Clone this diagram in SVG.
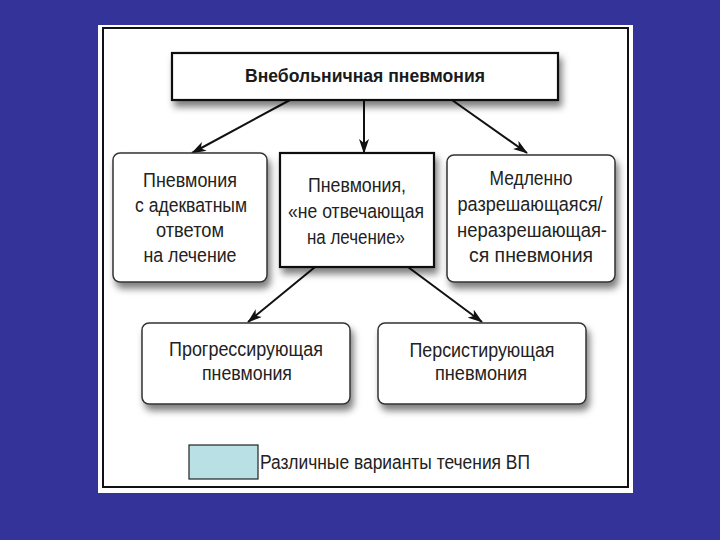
<svg xmlns="http://www.w3.org/2000/svg" width="720" height="540" viewBox="0 0 720 540">
<defs>
<style>
.t{font-family:"Liberation Sans","Arial",sans-serif;font-size:20.5px;fill:#222;text-anchor:middle}
.tb{font-family:"Liberation Sans","Arial",sans-serif;font-size:18px;font-weight:bold;fill:#1a1a1a;text-anchor:middle}
.rb{fill:#fff;stroke:#333;stroke-width:1.5}
.sb{fill:#fff;stroke:#111;stroke-width:2.2}
.c{stroke:#111;stroke-width:2;fill:none}
</style>
<filter id="sh" x="-20%" y="-20%" width="140%" height="150%">
<feDropShadow dx="3" dy="6" stdDeviation="3.5" flood-color="#000" flood-opacity="0.5"/>
</filter>
<marker id="ah" viewBox="0 0 15 10" refX="14" refY="5" markerWidth="15" markerHeight="10" markerUnits="userSpaceOnUse" orient="auto">
<path d="M0,0 L15,5 L0,10 L4,5 Z" fill="#111"/>
</marker>
<marker id="ahc" viewBox="0 0 15 10" refX="14" refY="5" markerWidth="15" markerHeight="11" markerUnits="userSpaceOnUse" orient="auto">
<path d="M0,0 L15,5 L0,10 L4,5 Z" fill="#111"/>
</marker>
</defs>
<rect x="0" y="0" width="720" height="540" fill="#333399"/>
<rect x="98" y="25" width="535" height="468" fill="#fff"/>
<rect x="103" y="28" width="525" height="459" fill="none" stroke="#111" stroke-width="2"/>

<g id="connectors">
<line class="c" x1="290" y1="100" x2="192" y2="153" marker-end="url(#ah)"/>
<line class="c" x1="364" y1="100" x2="364" y2="153" stroke-width="4" marker-end="url(#ahc)"/>
<line class="c" x1="452" y1="100" x2="527" y2="153" marker-end="url(#ah)"/>
<line class="c" x1="315" y1="267" x2="248" y2="322" marker-end="url(#ah)"/>
<line class="c" x1="408" y1="267" x2="482" y2="322" marker-end="url(#ah)"/>
</g>

<g id="n-top">
<rect class="sb" x="172" y="53" width="386" height="47" filter="url(#sh)"/>
<text class="tb" x="365" y="82" textLength="240" lengthAdjust="spacingAndGlyphs">Внебольничная пневмония</text>
</g>

<g id="n-adequate">
<rect class="rb" x="113" y="153" width="154" height="129" rx="7" filter="url(#sh)"/>
<text class="t" x="190" y="187" textLength="94" lengthAdjust="spacingAndGlyphs">Пневмония</text>
<text class="t" x="191" y="212" textLength="112" lengthAdjust="spacingAndGlyphs">с адекватным</text>
<text class="t" x="190" y="237" textLength="68" lengthAdjust="spacingAndGlyphs">ответом</text>
<text class="t" x="190" y="262" textLength="93" lengthAdjust="spacingAndGlyphs">на лечение</text>
</g>

<g id="n-nonresp">
<rect class="sb" x="280" y="153" width="154" height="114" filter="url(#sh)"/>
<text class="t" x="357" y="192" textLength="98" lengthAdjust="spacingAndGlyphs">Пневмония,</text>
<text class="t" x="356" y="218" textLength="136" lengthAdjust="spacingAndGlyphs">«не отвечающая</text>
<text class="t" x="356" y="244" textLength="98" lengthAdjust="spacingAndGlyphs">на лечение»</text>
</g>

<g id="n-slow">
<rect class="rb" x="447" y="155" width="168" height="127" rx="7" filter="url(#sh)"/>
<text class="t" x="531" y="185" textLength="83" lengthAdjust="spacingAndGlyphs">Медленно</text>
<text class="t" x="530" y="211" textLength="145" lengthAdjust="spacingAndGlyphs">разрешающаяся/</text>
<text class="t" x="532" y="237" textLength="150" lengthAdjust="spacingAndGlyphs">неразрешающая-</text>
<text class="t" x="531" y="262" textLength="124" lengthAdjust="spacingAndGlyphs">ся пневмония</text>
</g>

<g id="n-progressive">
<rect class="rb" x="142" y="323" width="208" height="81" rx="7" filter="url(#sh)"/>
<text class="t" x="246" y="356" textLength="154" lengthAdjust="spacingAndGlyphs">Прогрессирующая</text>
<text class="t" x="247" y="380" textLength="90" lengthAdjust="spacingAndGlyphs">пневмония</text>
</g>

<g id="n-persistent">
<rect class="rb" x="378" y="323" width="208" height="81" rx="7" filter="url(#sh)"/>
<text class="t" x="482" y="357" textLength="145" lengthAdjust="spacingAndGlyphs">Персистирующая</text>
<text class="t" x="481" y="380" textLength="92" lengthAdjust="spacingAndGlyphs">пневмония</text>
</g>

<g id="legend">
<rect x="189" y="445" width="69" height="34" fill="#b9e0e4" stroke="#222" stroke-width="1.2"/>
<text x="260" y="469" font-family="Liberation Sans, Arial, sans-serif" font-size="19.5" fill="#222" textLength="270" lengthAdjust="spacingAndGlyphs">Различные варианты течения ВП</text>
</g>
</svg>
